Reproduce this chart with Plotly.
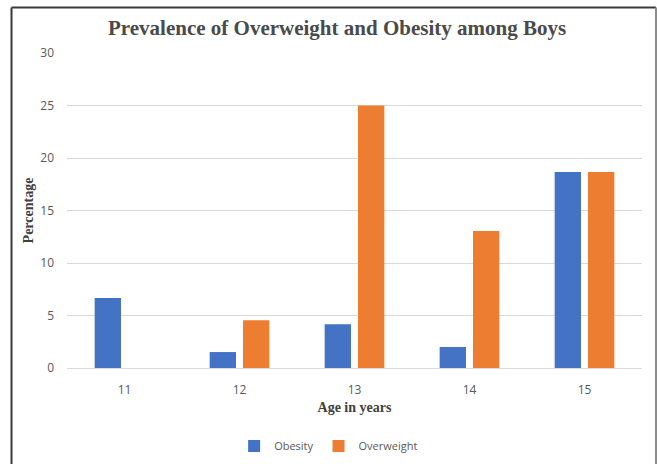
import plotly.graph_objects as go

# Age groups and prevalence (%) among boys
ages = ["11", "12", "13", "14", "15"]
obesity = [6.67, 1.52, 4.17, 2.0, 18.67]
overweight = [0, 4.55, 25.0, 13.04, 18.67]
y_ticks = [0, 5, 10, 15, 20, 25, 30]

BLUE = "#4472C4"
ORANGE = "#ED7D31"
GRID = "#D9D9D9"
TEXT = "#595959"

W, H = 657, 464
ML, MR, MT, MB = 67, 15, 53, 96
PW, PH = W - ML - MR, H - MT - MB


def px_x(p):
    return (p - ML) / PW


def px_y(p):
    return (H - MB - p) / PH


fig = go.Figure()
fig.add_trace(go.Bar(name="Obesity", x=ages, y=obesity, marker_color=BLUE,
                     marker_line_width=0))
fig.add_trace(go.Bar(name="Overweight", x=ages, y=overweight, marker_color=ORANGE,
                     marker_line_width=0))

serif = "Liberation Serif, Times New Roman, serif"
sans = "Open Sans, Liberation Sans, sans-serif"

fig.update_layout(
    width=W, height=H,
    margin=dict(l=ML, r=MR, t=MT, b=MB, pad=0, autoexpand=False),
    paper_bgcolor="white", plot_bgcolor="white",
    barmode="group", bargap=0.42, bargroupgap=0.21,
    title=dict(text="<b>Prevalence of Overweight and Obesity among Boys</b>",
               font=dict(family=serif, size=21, color="#4A4A4A"),
               x=0.513, xanchor="center", y=1 - 28 / H, yanchor="middle"),
    xaxis=dict(showgrid=False, showline=False, zeroline=False, automargin=False,
               ticks="", tickfont=dict(family=sans, size=12, color=TEXT),
               ticklabelstandoff=13,
               title=dict(text="<b>Age in years</b>",
                          font=dict(family=serif, size=14, color="#404040"),
                          standoff=5)),
    yaxis=dict(range=[0, 30], tickvals=y_ticks, showgrid=True, gridcolor=GRID,
               gridwidth=1, zeroline=True, zerolinecolor=GRID, zerolinewidth=1,
               showline=False, ticks="", automargin=False,
               tickfont=dict(family=sans, size=12, color=TEXT),
               ticklabelstandoff=12,
               title=dict(text="<b>Percentage</b>",
                          font=dict(family=serif, size=14, color="#404040"),
                          standoff=3)),
    legend=dict(orientation="h", x=0.455, xanchor="center",
                yref="container", y=1 - 446 / H, yanchor="middle",
                font=dict(family=sans, size=11, color=TEXT),
                itemwidth=30, traceorder="normal"),
    showlegend=True,
)

# Frame lines around the chart area
frame = [
    dict(x0=px_x(11.5), x1=px_x(11.5), y0=px_y(7.5), y1=px_y(470), color="#3A3A3A", w=2),
    dict(x0=px_x(11.5), x1=px_x(656), y0=px_y(7.5), y1=px_y(7.5), color="#3A3A3A", w=2),
    dict(x0=px_x(656), x1=px_x(656), y0=px_y(7.5), y1=px_y(470), color="#8C8C8C", w=2),
]
for f in frame:
    fig.add_shape(type="line", xref="paper", yref="paper",
                  x0=f["x0"], x1=f["x1"], y0=f["y0"], y1=f["y1"],
                  line=dict(color=f["color"], width=f["w"]), layer="above")

fig.write_html("out.html")
